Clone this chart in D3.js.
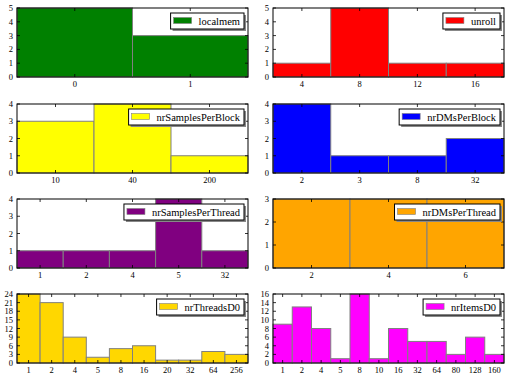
<!DOCTYPE html>
<html>
  <head>
    <meta charset="utf-8" />
    <script src="https://d3js.org/d3.v7.min.js"></script>
    <style>
      body {
        margin: 0;
        background: #fff;
      }
      text {
        font-family: "Liberation Serif", serif;
      }
    </style>
  </head>
  <body>
    <svg id="chart" width="509" height="378"></svg>
    <script>
      // counts per parameter value
      const localmemValues = ["0", "1"];
      const localmemCounts = [5, 3];
      const unrollValues = ["4", "8", "12", "16"];
      const unrollCounts = [1, 5, 1, 1];
      const samplesBlockValues = ["10", "40", "200"];
      const samplesBlockCounts = [3, 4, 1];
      const dmsBlockValues = ["2", "3", "8", "32"];
      const dmsBlockCounts = [4, 1, 1, 2];
      const samplesThreadValues = ["1", "2", "4", "5", "32"];
      const samplesThreadCounts = [1, 1, 1, 4, 1];
      const dmsThreadValues = ["2", "4", "6"];
      const dmsThreadCounts = [3, 3, 3];
      const threadsValues = ["1", "2", "4", "5", "8", "16", "20", "32", "64", "256"];
      const threadsCounts = [24, 21, 9, 2, 5, 6, 1, 1, 4, 3];
      const itemsValues = ["1", "2", "4", "5", "8", "10", "16", "32", "64", "80", "128", "160"];
      const itemsCounts = [9, 13, 8, 1, 16, 1, 8, 5, 5, 2, 6, 2];

      const panels = [
        { name: "localmem", cats: localmemValues, vals: localmemCounts, color: "#008000", ymax: 5, step: 1 },
        { name: "unroll", cats: unrollValues, vals: unrollCounts, color: "#ff0000", ymax: 5, step: 1 },
        { name: "nrSamplesPerBlock", cats: samplesBlockValues, vals: samplesBlockCounts, color: "#ffff00", ymax: 4, step: 1 },
        { name: "nrDMsPerBlock", cats: dmsBlockValues, vals: dmsBlockCounts, color: "#0000ff", ymax: 4, step: 1 },
        { name: "nrSamplesPerThread", cats: samplesThreadValues, vals: samplesThreadCounts, color: "#800080", ymax: 4, step: 1 },
        { name: "nrDMsPerThread", cats: dmsThreadValues, vals: dmsThreadCounts, color: "#ffa500", ymax: 3, step: 1 },
        { name: "nrThreadsD0", cats: threadsValues, vals: threadsCounts, color: "#ffd700", ymax: 24, step: 3 },
        { name: "nrItemsD0", cats: itemsValues, vals: itemsCounts, color: "#ff00ff", ymax: 16, step: 2 },
      ];

      const svg = d3.select("#chart");
      const colX = [17, 273];
      const rowY = [8, 104, 199, 294];
      const w = 231;
      const h = 69;
      const tickLen = 3;

      panels.forEach((p, i) => {
        const left = colX[i % 2];
        const top = rowY[Math.floor(i / 2)];
        const g = svg.append("g").attr("transform", `translate(${left},${top})`);

        const x = d3.scaleBand().domain(p.cats).range([0, w]);
        const y = d3.scaleLinear().domain([0, p.ymax]).range([h, 0]);
        const yTicks = d3.range(0, p.ymax + 0.001, p.step);

        // bars
        g.selectAll("rect.bar")
          .data(p.cats)
          .join("rect")
          .attr("class", "bar")
          .attr("x", (d) => x(d))
          .attr("width", x.bandwidth())
          .attr("y", (d, j) => y(p.vals[j]))
          .attr("height", (d, j) => h - y(p.vals[j]))
          .attr("fill", p.color)
          .attr("stroke", "#808080")
          .attr("stroke-width", 1);

        // ticks pointing inward on all four sides
        const ticks = g.append("g").attr("stroke", "#000").attr("stroke-width", 0.8);
        p.cats.forEach((c) => {
          const cx = x(c) + x.bandwidth() / 2;
          ticks.append("line").attr("x1", cx).attr("x2", cx).attr("y1", h).attr("y2", h - tickLen);
          ticks.append("line").attr("x1", cx).attr("x2", cx).attr("y1", 0).attr("y2", tickLen);
        });
        yTicks.forEach((t) => {
          ticks.append("line").attr("x1", 0).attr("x2", tickLen).attr("y1", y(t)).attr("y2", y(t));
          ticks.append("line").attr("x1", w).attr("x2", w - tickLen).attr("y1", y(t)).attr("y2", y(t));
        });

        // tick labels
        g.selectAll("text.xl")
          .data(p.cats)
          .join("text")
          .attr("class", "xl")
          .attr("x", (d) => x(d) + x.bandwidth() / 2)
          .attr("y", h + 10)
          .attr("text-anchor", "middle")
          .attr("font-size", 8.5)
          .text((d) => d);
        g.selectAll("text.yl")
          .data(yTicks)
          .join("text")
          .attr("class", "yl")
          .attr("x", -4)
          .attr("y", (d) => y(d) + 3)
          .attr("text-anchor", "end")
          .attr("font-size", 8.5)
          .text((d) => d);

        // frame
        g.append("rect")
          .attr("width", w)
          .attr("height", h)
          .attr("fill", "none")
          .attr("stroke", "#000")
          .attr("stroke-width", 1);

        // legend with drop shadow
        const leg = g.append("g");
        const label = leg
          .append("text")
          .attr("font-size", 10.5)
          .attr("y", 11.5)
          .text(p.name);
        const tw = label.node().getComputedTextLength();
        const lw = 3 + 18 + 7 + tw + 4;
        const lx = w - 4 - lw;
        const ly = 5;
        leg.attr("transform", `translate(${lx},${ly})`);
        leg.insert("rect", "text")
          .attr("x", 2)
          .attr("y", 2)
          .attr("width", lw)
          .attr("height", 16)
          .attr("fill", "#888");
        leg.insert("rect", "text")
          .attr("width", lw)
          .attr("height", 16)
          .attr("fill", "#fff")
          .attr("stroke", "#000")
          .attr("stroke-width", 1);
        leg.insert("rect", "text")
          .attr("x", 3)
          .attr("y", 4.5)
          .attr("width", 18)
          .attr("height", 6)
          .attr("fill", p.color)
          .attr("stroke", "#808080")
          .attr("stroke-width", 0.6);
        label.attr("x", 3 + 18 + 7);
      });
    </script>
  </body>
</html>
